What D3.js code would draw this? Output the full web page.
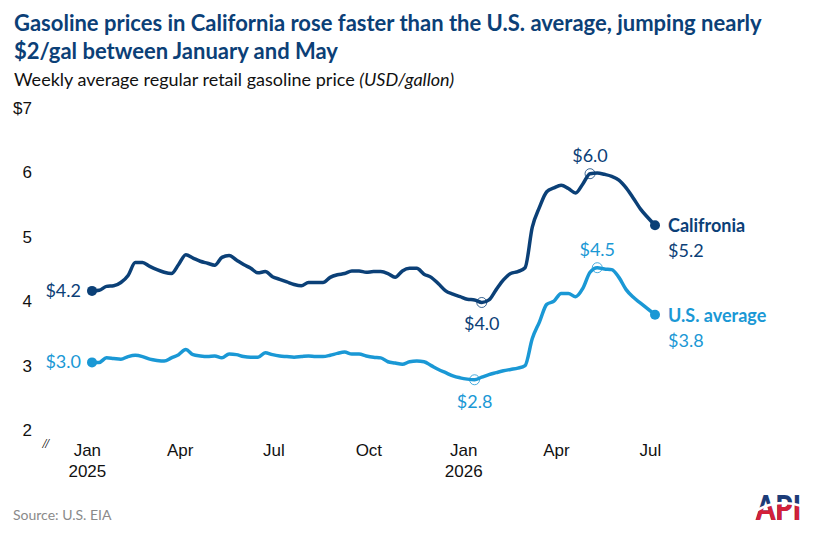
<!DOCTYPE html>
<html>
<head>
<meta charset="utf-8">
<script src="https://d3js.org/d3.v7.min.js"></script>
<style>
  body { margin: 0; background: #fff; }
  svg { font-family: Lato, "Noto Sans", sans-serif; }
</style>
</head>
<body>
<div id="my_dataviz"></div>
<script>

// weekly data, first week of Jan 2025 to first week of Jul 2026
var startWeek = "2025-01-06";
var california = [4.16, 4.17, 4.23, 4.24, 4.29, 4.40, 4.60, 4.60, 4.54, 4.49,
                  4.45, 4.43, 4.57, 4.72, 4.67, 4.62, 4.59, 4.56, 4.68, 4.71,
                  4.64, 4.57, 4.51, 4.44, 4.46, 4.38, 4.34, 4.30, 4.26, 4.24,
                  4.29, 4.29, 4.29, 4.37, 4.41, 4.43, 4.47, 4.47, 4.45, 4.46,
                  4.46, 4.43, 4.37, 4.47, 4.51, 4.51, 4.42, 4.37, 4.27, 4.16,
                  4.11, 4.07, 4.03, 4.02, 3.98, 4.02, 4.18, 4.33, 4.43, 4.46,
                  4.52, 5.15, 5.46, 5.70, 5.76, 5.80, 5.75, 5.68, 5.82, 5.98,
                  5.99, 5.97, 5.94, 5.88, 5.76, 5.60, 5.43, 5.30, 5.18];
var usAverage  = [3.05, 3.05, 3.12, 3.11, 3.10, 3.14, 3.16, 3.14, 3.10, 3.08,
                  3.07, 3.12, 3.17, 3.25, 3.17, 3.15, 3.14, 3.15, 3.12, 3.18,
                  3.17, 3.14, 3.13, 3.13, 3.20, 3.17, 3.15, 3.14, 3.13, 3.14,
                  3.15, 3.14, 3.14, 3.16, 3.19, 3.21, 3.18, 3.18, 3.15, 3.13,
                  3.12, 3.06, 3.04, 3.02, 3.06, 3.07, 3.06, 3.00, 2.94, 2.89,
                  2.84, 2.81, 2.79, 2.78, 2.82, 2.86, 2.89, 2.92, 2.94, 2.96,
                  3.00, 3.42, 3.68, 3.95, 4.00, 4.12, 4.12, 4.07, 4.20, 4.45,
                  4.52, 4.50, 4.49, 4.37, 4.18, 4.06, 3.97, 3.88, 3.79];
var yTicks = [2, 3, 4, 5, 6, 7];
var xTicks = ["2025-01-01", "2025-04-01", "2025-07-01", "2025-10-01",
              "2026-01-01", "2026-04-01", "2026-07-01"];
// annotated points: [series, week index, label, above?]
var callouts = [["ca", 69, "$6.0", true], ["ca", 54, "$4.0", false],
                ["us", 70, "$4.5", true], ["us", 53, "$2.8", false]];

var navy = "#0b4077", sky = "#1a98d5";

var parse = d3.timeParse("%Y-%m-%d");
var t0 = parse(startWeek);
var dates = california.map(function(d, i) { return d3.timeWeek.offset(t0, i); });
var caData = california.map(function(v, i) { return {date: dates[i], value: v}; });
var usData = usAverage.map(function(v, i) { return {date: dates[i], value: v}; });

var width = 820, height = 538;
var svg = d3.select("#my_dataviz").append("svg")
    .attr("width", width).attr("height", height);

var x = d3.scaleTime()
    .domain([dates[0], dates[dates.length - 1]])
    .range([92, 655]);
var y = d3.scaleLinear()
    .domain([2, 7])
    .range([430, 108]);

// titles
var title = svg.append("text")
    .attr("x", 14).attr("y", 31)
    .style("font-size", "22px").style("font-weight", "bold").style("fill", navy);
title.append("tspan").attr("x", 14).text("Gasoline prices in California rose faster than the U.S. average, jumping nearly");
title.append("tspan").attr("x", 14).attr("dy", 28).text("$2/gal between January and May");

var sub = svg.append("text")
    .attr("x", 14).attr("y", 86)
    .style("font-size", "18px").style("fill", "#111");
sub.append("tspan").text("Weekly average regular retail gasoline price ");
sub.append("tspan").style("font-style", "italic").text("(USD/gallon)");

// y axis (labels only)
var yAxis = svg.append("g")
    .attr("transform", "translate(32,0)")
    .style("font-size", "17px")
    .call(d3.axisLeft(y).tickValues(yTicks).tickSize(0)
        .tickFormat(function(d) { return d === 7 ? "$7" : d; }));
yAxis.select(".domain").remove();
yAxis.selectAll("text").attr("x", 0).style("fill", "#111").style("font-family", "inherit");

// axis break mark
svg.append("text")
    .attr("x", 42).attr("y", 447)
    .style("font-size", "12px").style("fill", "#111").style("font-style", "italic")
    .text("//");

// x axis (labels only)
var xAxis = svg.append("g")
    .attr("transform", "translate(0,441)")
    .style("font-size", "17px")
    .call(d3.axisBottom(x).tickValues(xTicks.map(parse)).tickSize(0)
        .tickFormat(d3.timeFormat("%b")));
xAxis.select(".domain").remove();
xAxis.selectAll("text").style("fill", "#111").style("font-family", "inherit");
xAxis.selectAll(".tick").filter(function(d) { return d.getMonth() === 0; })
    .append("text")
    .attr("y", 36)
    .attr("text-anchor", "middle")
    .style("fill", "#111")
    .text(function(d) { return d.getFullYear(); });

// lines
var line = d3.line()
    .x(function(d) { return x(d.date); })
    .y(function(d) { return y(d.value); })
    .curve(d3.curveMonotoneX);

[[caData, navy], [usData, sky]].forEach(function(s) {
  svg.append("path")
      .datum(s[0])
      .attr("fill", "none")
      .attr("stroke", s[1])
      .attr("stroke-width", 3.5)
      .attr("stroke-linejoin", "round")
      .attr("d", line);
  [s[0][0], s[0][s[0].length - 1]].forEach(function(d) {
    svg.append("circle")
        .attr("cx", x(d.date)).attr("cy", y(d.value)).attr("r", 5)
        .attr("fill", s[1]);
  });
});

// start labels
svg.append("text").attr("x", 81).attr("y", y(caData[0].value) + 6)
    .attr("text-anchor", "end")
    .style("font-size", "18px").style("fill", navy)
    .text("$" + caData[0].value.toFixed(1));
svg.append("text").attr("x", 81).attr("y", y(usData[0].value) + 6)
    .attr("text-anchor", "end")
    .style("font-size", "18px").style("fill", sky)
    .text("$" + usData[0].value.toFixed(1));

// end labels
var caEnd = caData[caData.length - 1], usEnd = usData[usData.length - 1];
svg.append("text").attr("x", 668).attr("y", y(caEnd.value) + 7)
    .style("font-size", "18px").style("font-weight", "bold").style("fill", navy)
    .text("Califronia");
svg.append("text").attr("x", 668).attr("y", y(caEnd.value) + 32)
    .style("font-size", "18px").style("fill", navy)
    .text("$" + caEnd.value.toFixed(1));
svg.append("text").attr("x", 668).attr("y", y(usEnd.value) + 7)
    .style("font-size", "18px").style("font-weight", "bold").style("fill", sky)
    .text("U.S. average");
svg.append("text").attr("x", 668).attr("y", y(usEnd.value) + 32)
    .style("font-size", "18px").style("fill", sky)
    .text("$" + usEnd.value.toFixed(1));

// callouts for highs and lows
callouts.forEach(function(c) {
  var data = c[0] === "ca" ? caData : usData;
  var col = c[0] === "ca" ? navy : sky;
  var d = data[c[1]];
  svg.append("circle")
      .attr("cx", x(d.date)).attr("cy", y(d.value)).attr("r", 5)
      .attr("fill", "none").attr("stroke", col).attr("stroke-width", 0.8);
  svg.append("text")
      .attr("x", x(d.date)).attr("y", y(d.value) + (c[3] ? -12 : 28))
      .attr("text-anchor", "middle")
      .style("font-size", "18px").style("fill", col)
      .text(c[2]);
});

// source
svg.append("text").attr("x", 13).attr("y", 520)
    .style("font-size", "14px").style("fill", "#8a8a8a")
    .text("Source: U.S. EIA");

// API logo
var logo = svg.append("g").attr("transform", "translate(756,492)");
logo.append("clipPath").attr("id", "logoLow")
    .append("path").attr("d", "M-2,20 Q20,6 46,14 L46,32 L-2,32 Z");
logo.append("text").attr("x", 0).attr("y", 28)
    .attr("textLength", 45).attr("lengthAdjust", "spacingAndGlyphs")
    .style("font-size", "34px").style("font-weight", "900").style("fill", "#1d3c78")
    .text("API");
logo.append("text").attr("x", 0).attr("y", 28)
    .attr("clip-path", "url(#logoLow)")
    .attr("textLength", 45).attr("lengthAdjust", "spacingAndGlyphs")
    .style("font-size", "34px").style("font-weight", "900").style("fill", "#d3203a")
    .text("API");
logo.append("path")
    .attr("d", "M-2,20 Q20,6 46,14")
    .attr("fill", "none").attr("stroke", "#fff").attr("stroke-width", 2.5);

</script>
</body>
</html>
